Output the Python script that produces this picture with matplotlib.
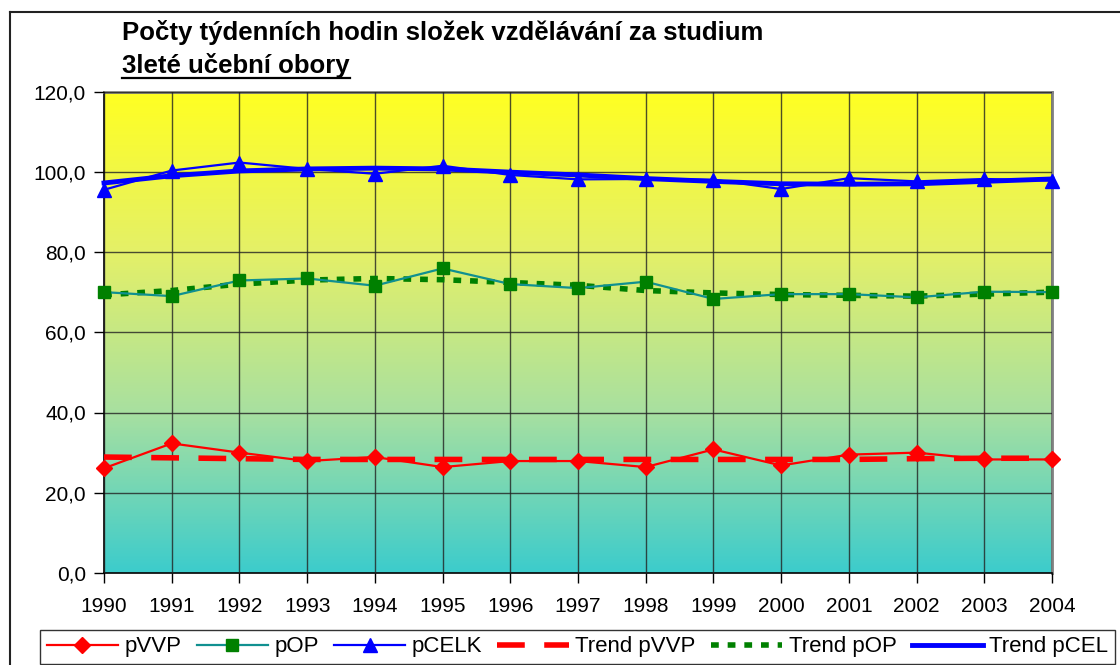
import numpy as np
import matplotlib
matplotlib.use("Agg")
import matplotlib.pyplot as plt
from matplotlib.lines import Line2D
from matplotlib.colors import LinearSegmentedColormap
from matplotlib.ticker import FuncFormatter

plt.rcParams['font.family'] = ['Liberation Sans', 'DejaVu Sans']

years = list(range(1990, 2005))
pVVP = [26.1, 32.3, 30.0, 27.9, 28.9, 26.4, 27.9, 27.9, 26.4, 30.8, 26.8, 29.5, 30.0, 28.3, 28.3]
pOP = [70.0, 69.0, 72.9, 73.4, 71.6, 75.9, 72.0, 71.0, 72.6, 68.3, 69.5, 69.5, 68.7, 70.1, 70.0]
pCELK = [95.5, 100.3, 102.3, 100.7, 99.5, 101.5, 99.2, 98.1, 98.2, 98.0, 95.7, 98.4, 97.6, 98.2, 97.8]
trend_pVVP = [28.9, 28.7, 28.5, 28.3, 28.3, 28.3, 28.3, 28.3, 28.3, 28.3, 28.3, 28.3, 28.5, 28.6, 28.6]
trend_pOP = [69.3, 70.4, 72.0, 73.0, 73.4, 73.1, 72.4, 71.7, 70.4, 69.8, 69.4, 69.2, 69.0, 69.5, 70.0]
trend_pCEL = [97.2, 99.0, 100.2, 100.7, 100.9, 100.7, 99.9, 99.2, 98.3, 97.6, 97.0, 96.9, 97.0, 97.6, 98.2]
yticks = [0, 20, 40, 60, 80, 100, 120]

W, H = 1120, 665
fig = plt.figure(figsize=(W/100, H/100), dpi=100)
fig.patch.set_facecolor('white')

ax = fig.add_axes([104/W, 1-573/H, (1052-104)/W, (573-91.5)/H])

# gradient background
cmap = LinearSegmentedColormap.from_list('g', ['#3CCCCC', '#A8E0A0', '#E4F068', '#FFFF22'])
grad = np.linspace(0, 1, 256).reshape(-1, 1)
ax.imshow(grad, aspect='auto', cmap=cmap, origin='lower',
          extent=[years[0], years[-1], 0, 120], zorder=0)

ax.set_xlim(years[0], years[-1])
ax.set_ylim(0, 120)
ax.set_xticks(years)
ax.set_yticks(yticks)
ax.yaxis.set_major_formatter(FuncFormatter(lambda v, p: f"{v:.1f}".replace('.', ',')))
ax.grid(True, color='#222222', lw=1, alpha=0.8, zorder=1)
ax.set_axisbelow(False)
ax.tick_params(axis='both', labelsize=15, direction='out', length=7, width=1, colors='black', pad=6)
ax.tick_params(axis='x', pad=10)
for s in ['top', 'right']:
    ax.spines[s].set_color('#808080')
    ax.spines[s].set_linewidth(2)
for s in ['left', 'bottom']:
    ax.spines[s].set_color('black')
    ax.spines[s].set_linewidth(1.2)

l1, = ax.plot(years, pVVP, color='#FF0000', lw=1.6, marker='D', ms=8.5, mfc='#FF0000', mec='#FF0000', zorder=5, label='pVVP')
l2, = ax.plot(years, pOP, color='#109090', lw=1.6, marker='s', ms=8.5, mfc='#008000', mec='#008000', zorder=5, label='pOP')
l3, = ax.plot(years, pCELK, color='#0000FF', lw=1.6, marker='^', ms=10, mfc='#0000FF', mec='#0000FF', zorder=5, label='pCELK')
l4, = ax.plot(years, trend_pVVP, color='#FF0000', lw=4, linestyle=(0, (5, 3.5)), zorder=4, label='Trend pVVP')
l5, = ax.plot(years, trend_pOP, color='#008000', lw=4, linestyle=(0, (1.4, 1.6)), zorder=4, label='Trend pOP')
l6, = ax.plot(years, trend_pCEL, color='#0000FF', lw=3.5, zorder=4, label='Trend pCEL')
for l in (l1, l2, l3, l4, l5, l6):
    l.set_clip_on(False)

# outer border
fig.add_artist(Line2D([10/W, 10/W], [0, 1-12/H], color='#222222', lw=1.5))
fig.add_artist(Line2D([10/W, 1], [1-12/H, 1-12/H], color='#222222', lw=1.5))

# title
fig.text(122/W, 1-40/H, 'Počty týdenních hodin složek vzdělávání za studium',
         fontsize=18.5, fontweight='bold', ha='left', va='baseline')
t2 = fig.text(122/W, 1-73/H, '3leté učební obory', fontsize=18.5, fontweight='bold',
              ha='left', va='baseline')
fig.canvas.draw()
bb = t2.get_window_extent()
fig.add_artist(Line2D([bb.x0/W, bb.x1/W], [(H-78)/H, (H-78)/H], color='black', lw=1.6))

leg = fig.legend(handles=[l1, l2, l3, l4, l5, l6], loc='lower left',
                 bbox_to_anchor=(40/W, 1-664/H, (1115-40)/W, 41/H), mode='expand',
                 ncol=6, fontsize=16, frameon=True, fancybox=False, handlelength=3.2,
                 handletextpad=0.3, columnspacing=0.4, borderaxespad=0, borderpad=0.3)
leg.get_frame().set_edgecolor('black')
leg.get_frame().set_linewidth(1)

fig.savefig('out.png', dpi=100)
